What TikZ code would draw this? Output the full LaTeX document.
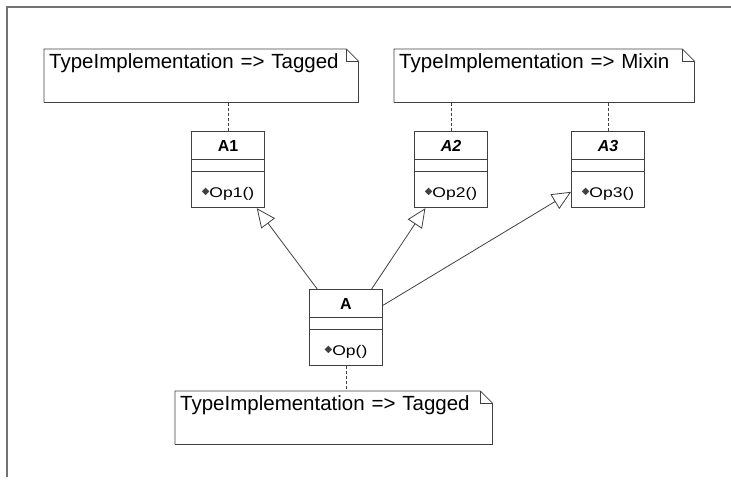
\documentclass[tikz,border=0pt]{standalone}
\usepackage{fontspec}
\setmainfont{Liberation Sans}
\newfontfamily\symfont{DejaVu Sans}
\usetikzlibrary{arrows.meta,shapes.multipart}
\newcommand{\umlname}[1]{\rule[-7pt]{0pt}{27pt}{\fontsize{16}{16}\selectfont\bfseries #1}}
\newcommand{\umlop}[1]{\rule[-10pt]{0pt}{36pt}{\symfont\fontsize{10}{10}\selectfont\color{black!75}\raisebox{3pt}{◆}}{\fontsize{14}{14}\selectfont\addfontfeature{FakeStretch=1.25}#1}}
\begin{document}
\begin{tikzpicture}
    [x=1pt, y=-1pt,
    umlclass/.style={rectangle split, rectangle split parts=3, anchor=north,
      draw=black!75, line width=.8pt, minimum width=73pt, inner xsep=2pt, inner ysep=0pt,
      rectangle split empty part height=11pt, rectangle split empty part depth=0pt},
    note/.style={anchor=north west, inner xsep=5pt, inner ysep=0pt, align=left,
      text height=19pt, text depth=34pt, font=\fontsize{20.5}{24}\selectfont},
    noteline/.style={draw=black!75, line width=.8pt},
    attach/.style={draw=black!75, line width=.8pt, dash pattern=on 3pt off 2pt},
    gen/.style={draw=black!75, line width=.8pt, -{Triangle[open, length=19pt, width=17pt]}},
    ]
    \useasboundingbox (0,0) rectangle (731,483);
    \draw[black!55, line width=1.5pt] (731,7) -- (7,7) -- (7,477);
    %\draw[black!8] (7,480) -- (731,480);
    \node[umlclass] (A1) at (228,131) {\umlname{A1}\nodepart{two}\nodepart{three}\umlop{Op1()}};
    \node[umlclass] (A2) at (451,131) {\umlname{\itshape A2}\nodepart{two}\nodepart{three}\umlop{Op2()}};
    \node[umlclass] (A3) at (608,131) {\umlname{\itshape A3}\nodepart{two}\nodepart{three}\umlop{Op3()}};
    \node[umlclass] (A) at (346,289) {\umlname{A}\nodepart{two}\nodepart{three}\umlop{Op()}};
    \node[note, text width=304pt] (noteA1) at (44,49) {TypeImplementation => Tagged};
    \node[note, text width=290pt] (noteA23) at (394,49) {TypeImplementation => Mixin};
    \node[note, text width=307pt] (noteA) at (175,391) {TypeImplementation => Tagged};
    \foreach \n in {noteA1,noteA23,noteA}{
      \draw[noteline] (\n.south west) |- ([xshift=-12pt]\n.north east)
        -- ([yshift=-12pt]\n.north east) |- (\n.south west);
      \draw[noteline] ([xshift=-12pt]\n.north east) |- ([yshift=-12pt]\n.north east);
    }
    \draw[attach] (A1.north) -- (A1.north |- noteA1.south);
    \draw[attach] (A2.north) -- (A2.north |- noteA23.south);
    \draw[attach] (A3.north) -- (A3.north |- noteA23.south);
    \draw[attach] (A.south) -- (A.south |- noteA.north);
    \foreach \c in {A1,A2,A3}
      \draw[gen] (A) -- (\c);
\end{tikzpicture}
\end{document}
